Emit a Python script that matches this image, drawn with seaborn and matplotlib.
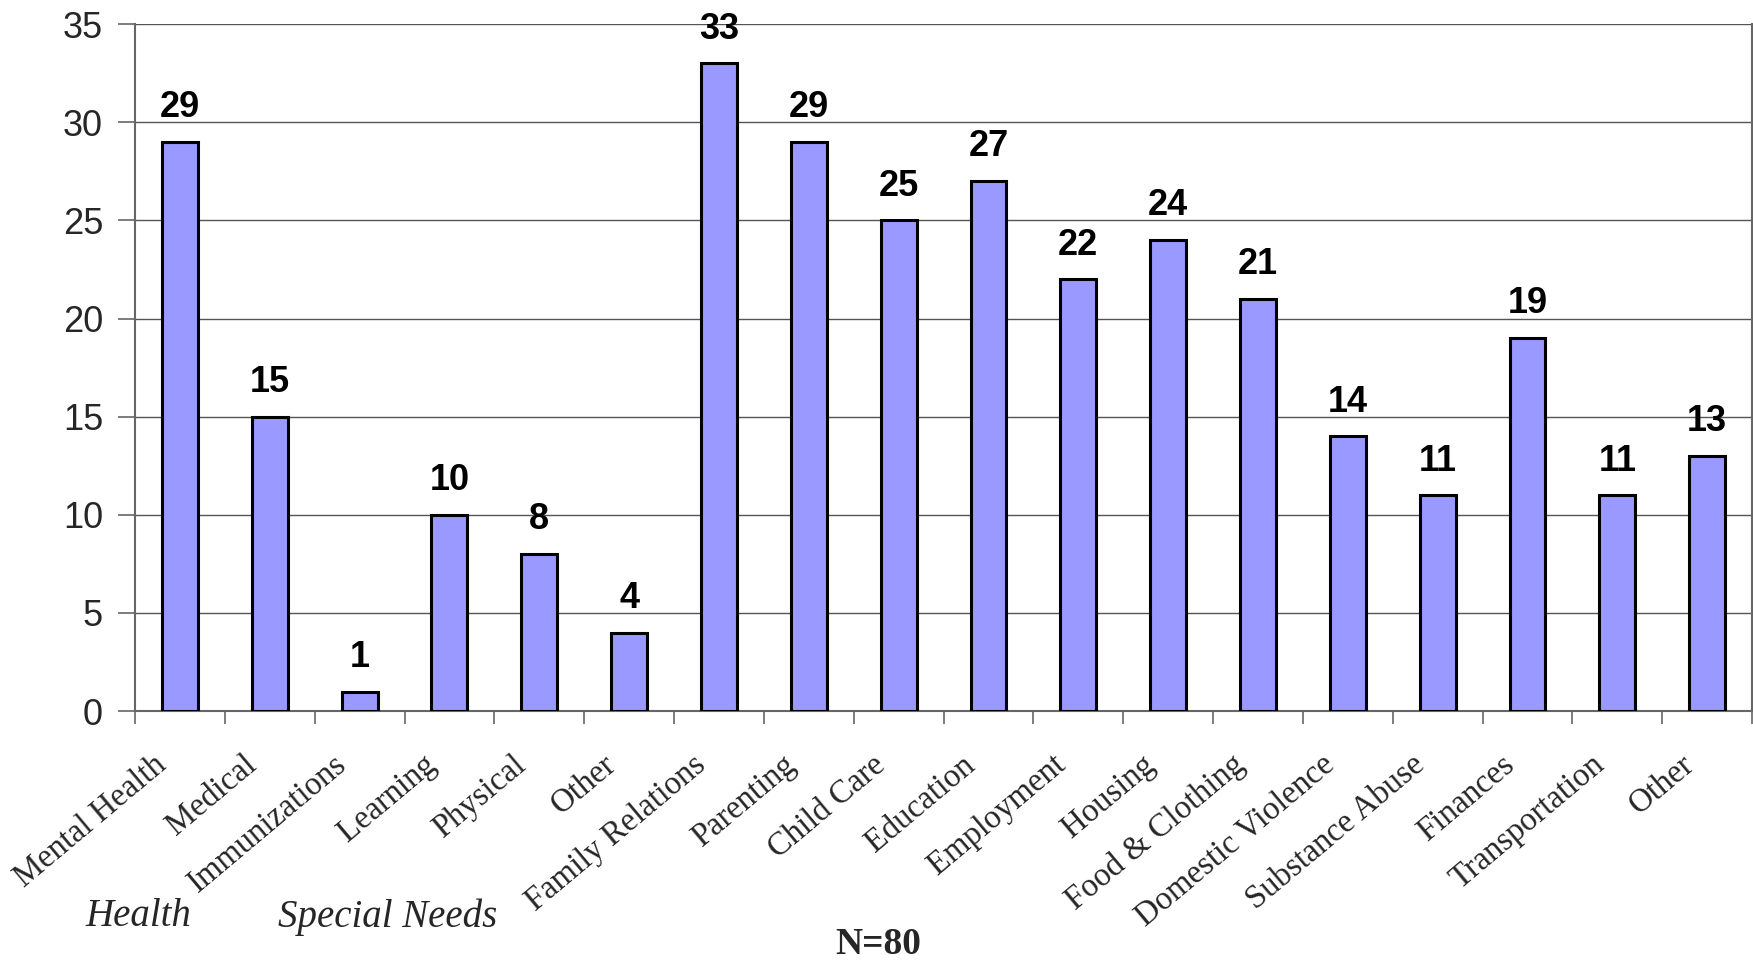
import matplotlib
matplotlib.use("Agg")
import matplotlib.pyplot as plt
import matplotlib.transforms as mtransforms
from matplotlib.ticker import FixedLocator
import seaborn as sns
import pandas as pd

categories = ["Mental Health", "Medical", "Immunizations", "Learning", "Physical",
              "Other", "Family Relations", "Parenting", "Child Care", "Education",
              "Employment", "Housing", "Food & Clothing", "Domestic Violence",
              "Substance Abuse", "Finances", "Transportation", "Other"]
values = [29, 15, 1, 10, 8, 4, 33, 29, 25, 27, 22, 24, 21, 14, 11, 19, 11, 13]
group_labels = ["Health", "Special Needs"]
note = "N=80"
y_ticks = [0, 5, 10, 15, 20, 25, 30, 35]

sns.set_theme(style="white")
plt.rcParams['font.family'] = ['Liberation Sans', 'DejaVu Sans']

df = pd.DataFrame({"idx": list(range(len(categories))), "value": values})

fig = plt.figure(figsize=(17.53, 9.61), dpi=100)
ax = fig.add_axes([0.077, 0.26, 0.9225, 0.715])

sns.barplot(data=df, x="idx", y="value", ax=ax, color="#9999FF", saturation=1,
            width=0.4, edgecolor="black", linewidth=2.2, zorder=3)

ax.set_xlim(-0.5, len(categories) - 0.5)
ax.set_ylim(0, 35)
ax.set_yticks(y_ticks)
ax.yaxis.grid(True, color="#555555", linewidth=1.0, zorder=0)
ax.xaxis.grid(False)
ax.set_xlabel("")
ax.set_ylabel("")

for s in ["left", "bottom", "right"]:
    ax.spines[s].set_visible(True)
    ax.spines[s].set_color("#666666")
    ax.spines[s].set_linewidth(1.5)
ax.spines["top"].set_visible(False)

ax.tick_params(axis="y", which="major", direction="out", length=12, width=1.2,
               color="#666666", left=True, labelsize=26, pad=11)

# x ticks: labels at centers, tick marks at boundaries
ax.set_xticks(list(range(len(categories))))
ax.set_xticklabels(categories, rotation=40, ha="right", va="center",
                   rotation_mode="anchor", fontsize=23.5,
                   family=["Liberation Serif", "DejaVu Serif"])
ax.tick_params(axis="x", which="major", length=0, pad=36)
ax.xaxis.set_minor_locator(FixedLocator([i - 0.5 for i in range(len(categories) + 1)]))
ax.tick_params(axis="x", which="minor", direction="out", length=9, width=1.2,
               color="#666666", bottom=True)
offset = mtransforms.ScaledTranslation(-17 / 100, 0, fig.dpi_scale_trans)
for lab in ax.get_xticklabels():
    lab.set_transform(lab.get_transform() + offset)

for container in ax.containers:
    ax.bar_label(container, labels=[str(v) for v in values], padding=12,
                 fontsize=26, fontweight="bold", color="black")

fig.text(0.079, 0.046, group_labels[0], ha="center", va="center", fontsize=28,
         style="italic", family=["Liberation Serif", "DejaVu Serif"])
fig.text(0.221, 0.046, group_labels[1], ha="center", va="center", fontsize=28,
         style="italic", family=["Liberation Serif", "DejaVu Serif"])
fig.text(0.501, 0.017, note, ha="center", va="center", fontsize=27,
         fontweight="bold", family=["Liberation Serif", "DejaVu Serif"])

fig.savefig("out.png", dpi=100)
